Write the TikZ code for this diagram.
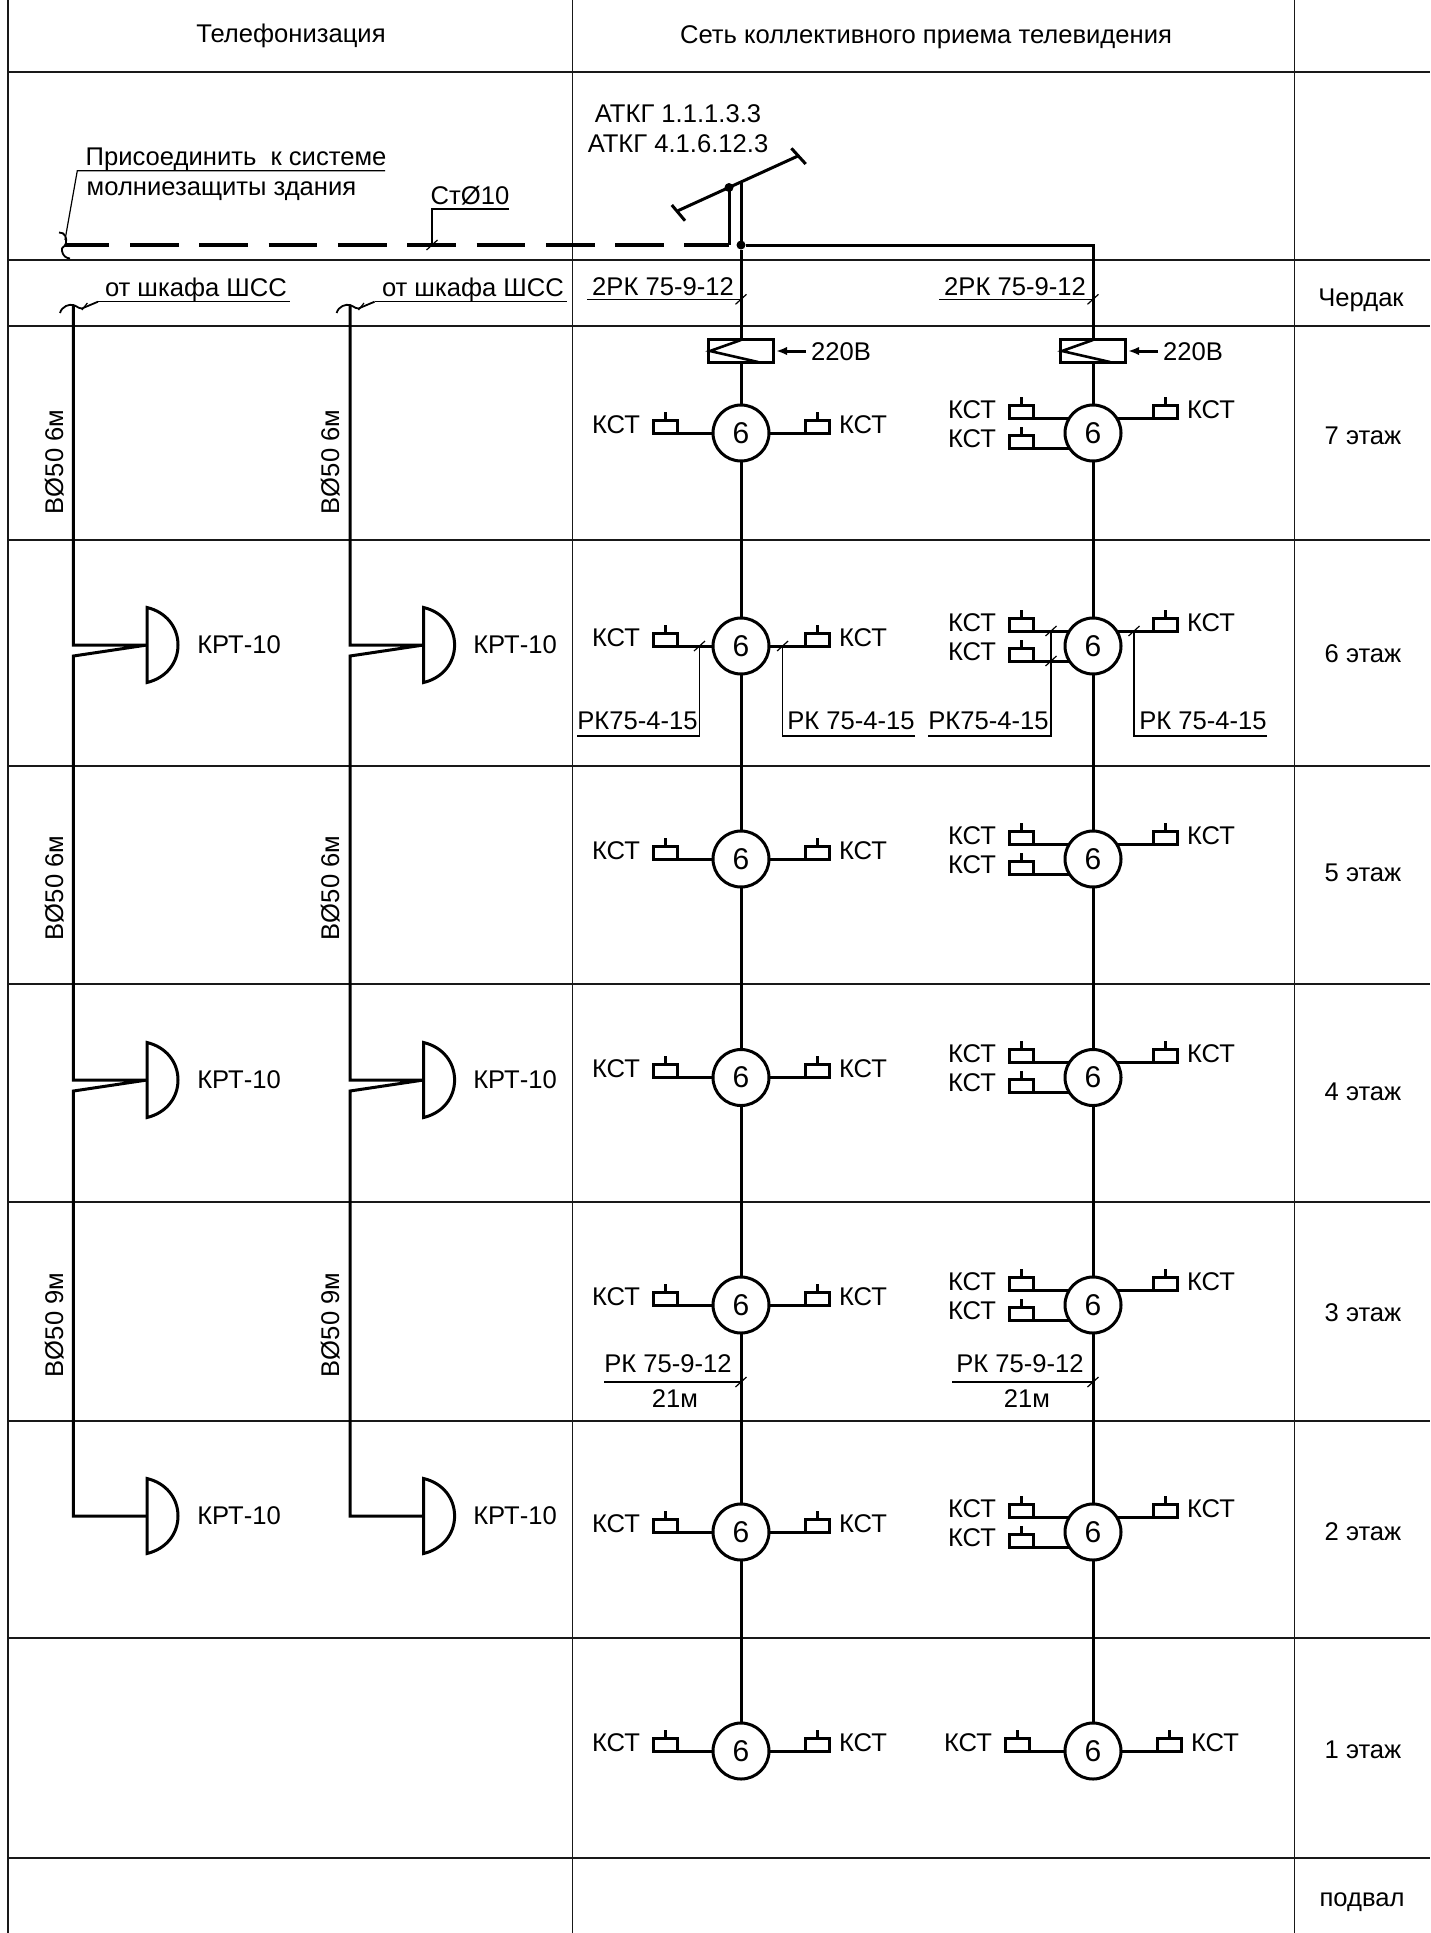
\documentclass[tikz,border=0pt]{standalone}
\usepackage{fontspec}
\setmainfont{Liberation Sans}
\usetikzlibrary{arrows.meta,calc}
\definecolor{gridc}{gray}{0.1}
\tikzset{
  x=0.5pt,y=-0.5pt,
  grid/.style={line width=0.9pt,draw=gridc},
  wire/.style={line width=1.5pt,line cap=butt,line join=miter},
  thin leader/.style={line width=0.6pt},
  lbl/.style={font=\fontsize{12.8}{14}\selectfont,inner sep=0,outer sep=0,text height=9.2pt,text depth=0pt},
  lblb/.style={font=\fontsize{12.8}{14}\selectfont,inner sep=0,outer sep=0,anchor=base west},
  tap/.style={circle,draw,line width=1.5pt,minimum size=28pt,inner sep=0,outer sep=0,font=\fontsize{15}{16}\selectfont},
  kst/.style={rectangle,draw,line width=1.5pt,minimum width=12pt,minimum height=6.5pt,inner sep=0,outer sep=0},
  ampbox/.style={rectangle,draw,line width=1.5pt,minimum width=32.2pt,minimum height=11.5pt,inner sep=0,outer sep=0},
  dotn/.style={circle,fill=black,minimum size=4.5pt,inner sep=0,outer sep=0},
}
\newcommand{\kstL}[6]{%
  \node[kst,anchor=south east] (#1) at (#3,#4) {};
  \draw[wire] (#1.south east) -- (#1.south east -| #2);
  \draw[wire] (#1.north) -- ++(0,-8.5);
  \node[lbl] at (#5,#6) {КСТ};
}
\newcommand{\kstR}[6]{%
  \node[kst,anchor=south west] (#1) at (#3,#4) {};
  \draw[wire] (#1.south west) -- (#1.south west -| #2);
  \draw[wire] (#1.north) -- ++(0,-8.5);
  \node[lbl] at (#5,#6) {КСТ};
}
\newcommand{\singleSide}[3]{%
  \pgfmathsetmacro{\xa}{#2-64}\pgfmathsetmacro{\xb}{#2+64}
  \pgfmathsetmacro{\ta}{#2-125}\pgfmathsetmacro{\tb}{#2+122}\pgfmathsetmacro{\ty}{#3-9}
  \kstL{#1l}{#1.west}{\xa}{#3}{\ta}{\ty}
  \kstR{#1r}{#1.east}{\xb}{#3}{\tb}{\ty}
}
\newcommand{\doubleSide}[3]{%
  \pgfmathsetmacro{\xa}{#2-60}\pgfmathsetmacro{\xb}{#2+60}
  \pgfmathsetmacro{\ta}{#2-121}\pgfmathsetmacro{\tb}{#2+118}
  \pgfmathsetmacro{\ya}{#3-15}\pgfmathsetmacro{\yb}{#3+15}
  \pgfmathsetmacro{\tya}{#3-24}\pgfmathsetmacro{\tyb}{#3+5}
  \kstL{#1l}{#1.148}{\xa}{\ya}{\ta}{\tya}
  \kstL{#1m}{#1.212}{\xa}{\yb}{\ta}{\tyb}
  \kstR{#1r}{#1.32}{\xb}{\ya}{\tb}{\tya}
}
\newcommand{\speaker}[4]{%
  \coordinate (#1) at (#2,#3);
  \draw[wire]
    (#2,#3-37.5) .. controls (#2+19,#3-33) and (#2+31,#3-18) .. (#2+31,#3)
    .. controls (#2+31,#3+18) and (#2+19,#3+33) .. (#2,#3+37.5) -- cycle;
  \node[lbl] at (#4,#3-1) {КРТ-10};
}
\newcommand{\tick}[1]{\draw[thin leader] ($(#1)+(-5.5,5)$) -- ($(#1)+(5.5,-5)$);}
\begin{document}
\begin{tikzpicture}
\useasboundingbox (0,0) rectangle (1430,1933);
\fill[white] (0,0) rectangle (1430,1933);
% grid
\foreach \y in {72,260,326,540,766,984,1202,1421,1638,1858}
  \draw[grid] (8,\y) -- (1430,\y);
\draw[grid,line width=1.1pt] (8,0) -- (8,1933);
\draw[grid] (572.5,0) -- (572.5,1933);
\draw[grid] (1294.5,0) -- (1294.5,1933);
% headers
\node[lbl] at (291,33) {Телефонизация};
\node[lbl] at (926,34) {Сеть коллективного приема телевидения};
% floors
\node[lbl] at (1361,297) {Чердак};
\node[lbl] at (1363,435) {7 этаж};
\node[lbl] at (1363,653) {6 этаж};
\node[lbl] at (1363,872) {5 этаж};
\node[lbl] at (1363,1091) {4 этаж};
\node[lbl] at (1363,1312) {3 этаж};
\node[lbl] at (1363,1531) {2 этаж};
\node[lbl] at (1363,1749) {1 этаж};
\node[lbl] at (1362,1897) {подвал};
% lightning
\coordinate (gS) at (65,245);
\coordinate (gJ) at (729,245);
\coordinate (gTop) at (729,187.5);
\draw[wire,line width=1.6pt,dash pattern=on 24.35pt off 10.3pt,dash phase=2.15pt] (gS) -- (gJ);
\draw[wire] (gJ) -- (gTop);
\draw[line width=0.9pt] (59,232.5) .. controls (65,232) and (67,238) .. (66,243) .. controls (65,248) and (61,246) .. (62,251) .. controls (63,256) and (66,258) .. (70,258.5);
\coordinate (lA) at (77.3,170.7); \coordinate (lB) at (385,170.7);
\draw[thin leader] (65,240) -- (lA) -- (lB);
\node[lblb] at (85.7,165) {Присоединить\ \ к системе};
\node[lblb] at (86.7,195) {молниезащиты здания};
\coordinate (stA) at (432,245); \coordinate (stB) at (432,209); \coordinate (stC) at (509,209);
\draw[thin leader] (stA) -- (stB) -- (stC); \tick{stA}
\node[lbl] at (470,195) {СтØ10};
% antenna
\coordinate (b1) at (678,210.7); \coordinate (b2) at (798.6,155.7);
\draw[wire] (b1) -- (b2);
\draw[wire] (671.8,205) -- (685,220.7);
\draw[wire] (791.4,148.3) -- (805.7,164);
\node[dotn] (d1) at (729,187.5) {};
\node[dotn] (d2) at (741,245) {};
\node[lbl] at (678,113) {АТКГ 1.1.1.3.3};
\node[lbl] at (678,143) {АТКГ 4.1.6.12.3};
% telephony
\foreach \nn/\xx/\tx in {p/73.4/239, q/350/515} {
  \pgfmathsetmacro{\fl}{\xx+73.6}
  \speaker{\nn a}{\fl}{645}{\tx}
  \speaker{\nn b}{\fl}{1080}{\tx}
  \speaker{\nn c}{\fl}{1516}{\tx}
  \coordinate (\nn t) at (\xx,305);
  \draw[wire] (\nn t) -- (\nn t |- \nn a) -- (\nn a) -- (\xx,656) -- (\nn t |- \nn b) -- (\nn b) -- (\xx,1091) -- (\nn t |- \nn c) -- (\nn c);
  \pgfmathsetmacro{\ua}{\xx-13.4}
  \draw[line width=0.9pt] (\ua,313) .. controls (\ua+2,306) and (\xx-4,304) .. (\xx,305) .. controls (\xx+4,306) and (\xx+7,311) .. (\xx+12,307) -- (\xx+24.6,301.7);
  \draw[thin leader] (\xx+8.5,310) -- (\xx+14,303);
}
\draw[thin leader] (98,301.7) -- (290,301.7);
\draw[thin leader] (374.6,301.7) -- (567,301.7);
\node[lblb] at (105,296) {от шкафа ШСС};
\node[lblb] at (382,296) {от шкафа ШСС};
\foreach \xx in {54,330} {
  \node[lbl,rotate=90] at (\xx,462) {ВØ50 6м};
  \node[lbl,rotate=90] at (\xx,888) {ВØ50 6м};
  \node[lbl,rotate=90] at (\xx,1325) {ВØ50 9м};
}
% tv
\foreach \pr/\cx in {a/741,b/1093} {
  \node[ampbox] (\pr amp) at (\cx,351) {};
  \foreach \k/\cy in {7/433,6/646,5/859,4/1077.5,3/1305,2/1532,1/1751}
    \node[tap] (\pr\k) at (\cx,\cy) {6};
  \draw[wire] (\pr amp.south) -- (\pr7.north);
  \draw[wire] (\pr7.south) -- (\pr6.north);
  \draw[wire] (\pr6.south) -- (\pr5.north);
  \draw[wire] (\pr5.south) -- (\pr4.north);
  \draw[wire] (\pr4.south) -- (\pr3.north);
  \draw[wire] (\pr3.south) -- (\pr2.north);
  \draw[wire] (\pr2.south) -- (\pr1.north);
  \draw[line width=1.3pt,line join=miter] (\cx,340) -- (\cx-31,351) -- (\cx+17,362);
  \coordinate (\pr ar) at (\cx+65,351);
  \draw[wire,-{Latex[length=5.5pt,width=4.2pt]}] (\pr ar) -- (\cx+35,351);
  \node[lbl] at (\cx+100,351) {220В};
}
\draw[wire] (d2) -- (741,181.7);
\draw[wire] (d2) -- (aamp.north);
\draw[wire] (d2) -| (bamp.north);
\singleSide{a7}{741}{433}
\singleSide{a6}{741}{646}
\singleSide{a5}{741}{859}
\singleSide{a4}{741}{1077.5}
\singleSide{a3}{741}{1305}
\singleSide{a2}{741}{1532}
\singleSide{a1}{741}{1751}
\doubleSide{b7}{1093}{433}
\doubleSide{b6}{1093}{646}
\doubleSide{b5}{1093}{859}
\doubleSide{b4}{1093}{1077.5}
\doubleSide{b3}{1093}{1305}
\doubleSide{b2}{1093}{1532}
\singleSide{b1}{1093}{1751}
% cable labels
\foreach \ux/\rx/\tx in {587/741/663,939/1093/1015} {
  \coordinate (u1) at (\ux,299.3); \coordinate (u2) at (\rx,299.3);
  \draw[thin leader] (u1) -- (u2); \tick{u2}
  \node[lbl] at (\tx,286) {2РК 75-9-12};
}
\foreach \ux/\rx/\tx/\mx in {604.4/741/668/675,952/1093/1020/1027} {
  \coordinate (u1) at (\ux,1382); \coordinate (u2) at (\rx,1382);
  \draw[thin leader] (u1) -- (u2); \tick{u2}
  \node[lbl] at (\tx,1363) {РК 75-9-12};
  \node[lbl] at (\mx,1398) {21м};
}
% RK 75-4-15
\coordinate (e1) at (577,736); \coordinate (e2) at (699.5,736); \coordinate (e3) at (699.5,646);
\draw[thin leader] (e1) -- (e2) -- (e3); \tick{e3}
\node[lbl] at (637.5,720) {РК75-4-15};
\coordinate (f1) at (915,736); \coordinate (f2) at (782.6,736); \coordinate (f3) at (782.6,646);
\draw[thin leader] (f1) -- (f2) -- (f3); \tick{f3}
\node[lbl] at (851,720) {РК 75-4-15};
\coordinate (g1) at (928,736); \coordinate (g2) at (1051,736); \coordinate (g3) at (1051,631); \coordinate (g4) at (1051,661);
\draw[thin leader] (g1) -- (g2) -- (g3); \tick{g3} \tick{g4}
\node[lbl] at (988.5,720) {РК75-4-15};
\coordinate (h1) at (1267,736); \coordinate (h2) at (1134,736); \coordinate (h3) at (1134,631);
\draw[thin leader] (h1) -- (h2) -- (h3); \tick{h3}
\node[lbl] at (1203,720) {РК 75-4-15};
\end{tikzpicture}
\end{document}
